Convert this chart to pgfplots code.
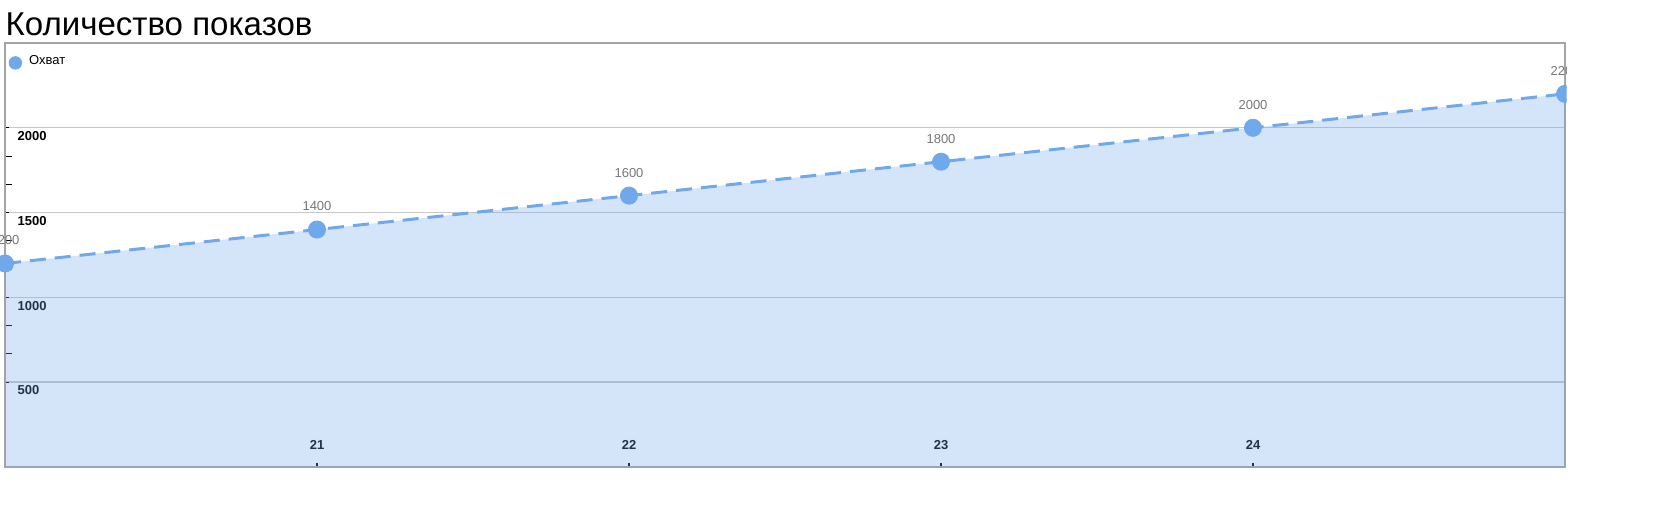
\documentclass[border=0pt]{standalone}
\usepackage{pgfplots}
\pgfplotsset{compat=1.18}
\usepackage{fontspec}
\setmainfont{Liberation Sans}
\usepackage{contour}
\contourlength{0.5pt}
\definecolor{lineblue}{RGB}{111,168,235}
\definecolor{labelgray}{RGB}{119,119,119}
\definecolor{framegray}{RGB}{165,165,165}
\definecolor{gridgray}{RGB}{200,200,200}

\begin{document}
\begin{tikzpicture}
\useasboundingbox (0,0) rectangle (16.8cm,5.05cm);
\node[anchor=base west, inner sep=0pt, font=\fontsize{9.4pt}{11pt}\selectfont] at (0.05cm,4.69cm) {Количество показов};
\begin{scope}
\clip (0,0) rectangle (15.665cm,5.05cm);
\begin{axis}[
  at={(0.05cm,0.38cm)}, anchor=south west,
  scale only axis, width=15.6cm, height=4.24cm,
  xmin=20, xmax=25, ymin=0, ymax=2500,
  xtick={21,22,23,24}, ytick={500,1000,1500,2000},
  xtick pos=bottom, ytick pos=left,
  minor y tick num=2,
  tick align=inside, major tick length=0.04cm, minor tick length=0.07cm,
  tick style={black, line width=0.3pt},
  ymajorgrids, grid style={gridgray, line width=0.4pt},
  axis line style={framegray, line width=0.6pt},
  /pgf/number format/assume math mode=true,
  /pgf/number format/1000 sep={},
  xticklabel={\contour{white}{\pgfmathprintnumber{\tick}}},
  yticklabel={\contour{white}{\pgfmathprintnumber{\tick}}},
  xticklabel style={anchor=south, inner sep=0pt, yshift=0.15cm, font=\bfseries\fontsize{3.7pt}{4pt}\selectfont},
  yticklabel style={anchor=north west, inner sep=0pt, xshift=0.12cm, yshift=-0.03cm, font=\bfseries\fontsize{3.7pt}{4pt}\selectfont},
  legend style={at={(0,1)}, anchor=north west, draw=none, fill=none, inner sep=0pt,
    xshift=0.03cm, yshift=-0.05cm, font=\fontsize{3.7pt}{4pt}\selectfont},
  legend cell align=left,
]
% area under the line
\addplot[fill=lineblue, fill opacity=0.3, draw=none, forget plot] coordinates {
  (20,1200) (21,1400) (22,1600) (23,1800) (24,2000) (25,2200)} \closedcycle;
% dashed line with points and value labels
\addplot[lineblue, line width=0.85pt, dash pattern=on 0.16cm off 0.09cm,
  mark=*, mark size=0.075cm, mark options={solid},
  nodes near coords,
  nodes near coords style={labelgray, anchor=south, inner sep=0pt, yshift=0.17cm,
    font=\fontsize{3.7pt}{4pt}\selectfont},
  forget plot] coordinates {
  (20,1200) (21,1400) (22,1600) (23,1800) (24,2000) (25,2200)};
\addlegendimage{legend image code/.code={\fill[lineblue] (0.06cm,0cm) circle (0.06cm);}}
\addlegendentry{Охват}
\end{axis}
\end{scope}
\end{tikzpicture}
\end{document}
